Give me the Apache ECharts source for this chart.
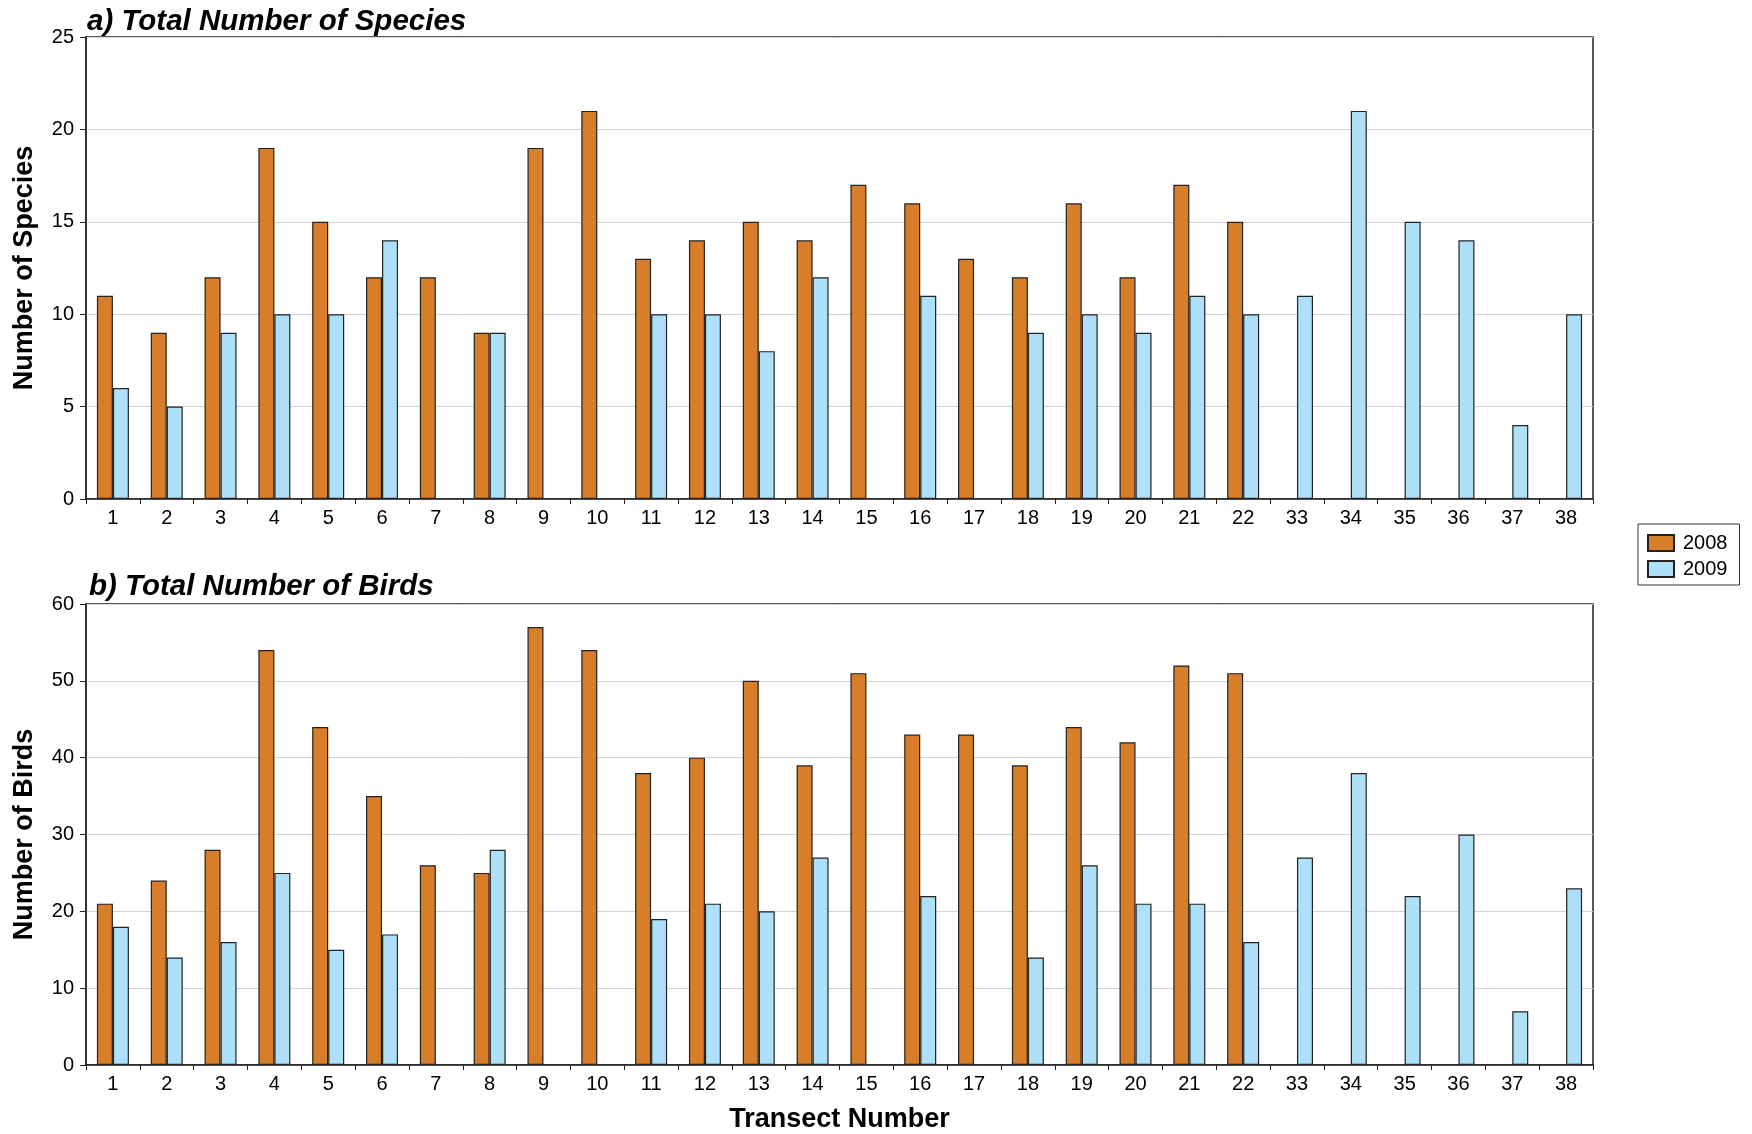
<!DOCTYPE html>
<html>
<head>
<meta charset="utf-8">
<script src="https://cdn.jsdelivr.net/npm/echarts@6/dist/echarts.min.js"></script>
<style>
html,body{margin:0;padding:0;background:#fff;}
#chart{width:1752px;height:1134px;}
</style>
</head>
<body>
<div id="chart"></div>
<script>
var transects = ['1','2','3','4','5','6','7','8','9','10','11','12','13','14','15','16','17','18','19','20','21','22','33','34','35','36','37','38'];
var species2008 = [11,9,12,19,15,12,12,9,19,21,13,14,15,14,17,16,13,12,16,12,17,15,null,null,null,null,null,null];
var species2009 = [6,5,9,10,10,14,null,9,null,null,10,10,8,12,null,11,null,9,10,9,11,10,11,21,15,14,4,10];
var birds2008 = [21,24,28,54,44,35,26,25,57,54,38,40,50,39,51,43,43,39,44,42,52,51,null,null,null,null,null,null];
var birds2009 = [18,14,16,25,15,17,null,28,null,null,19,21,20,27,null,22,null,14,26,21,21,16,27,38,22,30,7,23];
var seriesNames = ['2008','2009'];
var titles = ['a) Total Number of Species','b) Total Number of Birds'];
var yNames = ['Number of Species','Number of Birds'];
var xName = 'Transect Number';

var FONT = 'Liberation Sans, Arial, sans-serif';
var ORANGE = '#D87D29';
var BLUE = '#AEE0FA';
var chart = echarts.init(document.getElementById('chart'));

function xAxisCfg(idx, withName){
  var c = {
    type:'category', gridIndex:idx, data:transects,
    axisLine:{show:true, lineStyle:{color:'#222', width:1.5}},
    axisTick:{show:true, length:5, inside:false, lineStyle:{color:'#222'}},
    axisLabel:{color:'#000', fontSize:20, fontFamily:FONT, margin:9, interval:0},
    splitLine:{show:false}
  };
  if(withName){
    c.name = xName; c.nameLocation='middle'; c.nameGap=41;
    c.nameTextStyle = {fontSize:27, fontWeight:'bold', color:'#000', fontFamily:FONT};
  }
  return c;
}
function yAxisCfg(idx, max, interval){
  return {
    type:'value', gridIndex:idx, min:0, max:max, interval:interval,
    name:yNames[idx], nameLocation:'middle', nameGap:48,
    nameTextStyle:{fontSize:27, fontWeight:'bold', color:'#000', fontFamily:FONT},
    axisLine:{show:true, lineStyle:{color:'#222', width:1.5}},
    axisTick:{show:true, length:6, lineStyle:{color:'#222'}},
    axisLabel:{color:'#000', fontSize:20, fontFamily:FONT, margin:12},
    splitLine:{show:true, lineStyle:{color:'#d4d4d4', width:1}}
  };
}
function barSeries(name, data, xi, color){
  return {
    type:'bar', name:name, data:data, xAxisIndex:xi, yAxisIndex:xi,
    barWidth:16, barGap:'0%',
    itemStyle:{color:color, borderColor:'#222', borderWidth:1.2},
    emphasis:{disabled:true}
  };
}

chart.setOption({
  animation:false,
  backgroundColor:'#fff',
  title:[
    {text:titles[0], left:87, top:7, padding:0, textStyle:{fontSize:29.5, fontWeight:'bold', fontStyle:'italic', color:'#000', fontFamily:FONT}},
    {text:titles[1], left:89, top:572, padding:0, textStyle:{fontSize:29.5, fontWeight:'bold', fontStyle:'italic', color:'#000', fontFamily:FONT}}
  ],
  legend:{
    data:seriesNames, orient:'vertical', left:1638, top:524,
    padding:[9,12,6,9], itemGap:6, itemWidth:26, itemHeight:16, icon:'rect',
    borderColor:'#333', borderWidth:1, backgroundColor:'#fff',
    textStyle:{fontSize:20, color:'#000', fontFamily:FONT, padding:[0,0,0,4], lineHeight:17},
    selectedMode:false
  },
  grid:[
    {left:86, right:159, top:37, height:462, show:true, borderColor:'#222', borderWidth:1.5, backgroundColor:'transparent'},
    {left:86, right:159, top:604, height:462, show:true, borderColor:'#222', borderWidth:1.5, backgroundColor:'transparent'}
  ],
  xAxis:[xAxisCfg(0,false), xAxisCfg(1,true)],
  yAxis:[yAxisCfg(0,25,5), yAxisCfg(1,60,10)],
  series:[
    barSeries(seriesNames[0], species2008, 0, ORANGE),
    barSeries(seriesNames[1], species2009, 0, BLUE),
    barSeries(seriesNames[0], birds2008, 1, ORANGE),
    barSeries(seriesNames[1], birds2009, 1, BLUE)
  ]
});
</script>
</body>
</html>
